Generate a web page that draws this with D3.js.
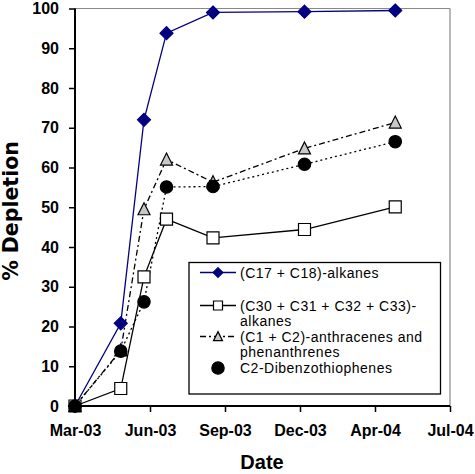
<!DOCTYPE html>
<html>
<head>
<meta charset="utf-8">
<script src="https://cdn.jsdelivr.net/npm/d3@7"></script>
<style>
  html, body { margin: 0; padding: 0; background: #fff; }
  svg { display: block; }
</style>
</head>
<body>
<svg id="chart" width="475" height="474"></svg>
<script>
// ---- data ----
const dates = ["2003-03-01", "2003-05-01", "2003-06-01", "2003-07-01", "2003-09-01", "2004-01-01", "2004-05-01"];
const alkanesC17C18 = [0, 20.8, 72, 93.8, 99, 99.2, 99.5];
const alkanesC30C33 = [0, 4.4, 32.5, 47, 42.3, 44.4, 50.1];
const anthracenes = [0, 14, 49.5, 62, 56.3, 64.8, 71.3];
const dibenzothiophenes = [0, 13.8, 26.2, 55.1, 55.2, 60.8, 66.5];
const seriesNames = ["(C17 + C18)-alkanes", "(C30 + C31 + C32 + C33)-|alkanes", "(C1 + C2)-anthracenes and|phenanthrenes", "C2-Dibenzothiophenes"];
const xTickDates = ["2003-03-01", "2003-06-09", "2003-09-17", "2003-12-26", "2004-04-04", "2004-07-13"];
const xTickLabels = ["Mar-03", "Jun-03", "Sep-03", "Dec-03", "Apr-04", "Jul-04"];
const yTicks = [0, 10, 20, 30, 40, 50, 60, 70, 80, 90, 100];
const xDomain = ["2003-03-01", "2004-07-13"];

const parse = d3.utcParse("%Y-%m-%d");
const svg = d3.select("#chart");
const L = 75, R = 450, T = 8.5, B = 406;

const x = d3.scaleUtc().domain(xDomain.map(parse)).range([L, R]);
const y = d3.scaleLinear().domain([0, 100]).range([B, T]);

// plot frame (grey top/right)
svg.append("line").attr("x1", L).attr("x2", R).attr("y1", T).attr("y2", T).attr("stroke", "#888").attr("stroke-width", 1.2);
svg.append("line").attr("x1", R).attr("x2", R).attr("y1", T).attr("y2", B).attr("stroke", "#888").attr("stroke-width", 1.2);

// axes
const tickMap = new Map(xTickDates.map((d, i) => [+parse(d), xTickLabels[i]]));
const xAxis = d3.axisBottom(x).tickValues(xTickDates.map(parse)).tickSize(6).tickPadding(13)
  .tickFormat(d => tickMap.get(+d));
const yAxis = d3.axisLeft(y).tickValues(yTicks).tickSize(6).tickPadding(10);

const gx = svg.append("g").attr("transform", `translate(0,${B})`).call(xAxis);
const gy = svg.append("g").attr("transform", `translate(${L},0)`).call(yAxis);
[gx, gy].forEach(g => {
  g.select(".domain").attr("stroke", "#000").attr("stroke-width", 2);
  g.selectAll(".tick line").attr("stroke", "#000").attr("stroke-width", 1.5);
  g.selectAll("text").attr("fill", "#000").style("font-family", "'Liberation Sans', Arial, sans-serif")
    .style("font-weight", "bold").style("font-size", "16px");
});
gx.select(".domain").attr("d", `M${L},0H${R}`);
gy.select(".domain").attr("d", `M0,${T}V${B}`);

// axis titles
svg.append("text").attr("x", 262).attr("y", 469).attr("text-anchor", "middle")
  .style("font-family", "'Liberation Sans', Arial, sans-serif").style("font-weight", "bold").style("font-size", "20px")
  .text("Date");
svg.append("text").attr("transform", `translate(18,211) rotate(-90)`).attr("text-anchor", "middle")
  .style("font-family", "'DejaVu Sans', Verdana, sans-serif").style("font-weight", "bold").style("font-size", "20.5px")
  .text("% Depletion");

// series
const allSeries = [
  { vals: alkanesC17C18, color: "#000080", dash: null, marker: "diamond", fill: "#000080", mstroke: "#000080" },
  { vals: alkanesC30C33, color: "#000", dash: null, marker: "square", fill: "#fff", mstroke: "#000" },
  { vals: anthracenes, color: "#000", dash: "6,3,2,3", marker: "triangle", fill: "#c8c8c8", mstroke: "#000" },
  { vals: dibenzothiophenes, color: "#000", dash: "2,3", marker: "circle", fill: "#000", mstroke: "#000" }
];

function markerPath(type) {
  switch (type) {
    case "diamond": return "M0,-6.5L6.5,0L0,6.5L-6.5,0Z";
    case "square": return "M-6,-6H6V6H-6Z";
    case "triangle": return "M0,-6.5L6,5.5H-6Z";
    case "circle": return d3.symbol(d3.symbolCircle, 120)();
  }
}

const line = d3.line().x(d => x(d.date)).y(d => y(d.v));
allSeries.forEach(s => {
  const pts = dates.map((d, i) => ({ date: parse(d), v: s.vals[i] }));
  s.pts = pts;
  svg.append("path").datum(pts).attr("d", line).attr("fill", "none")
    .attr("stroke", s.color).attr("stroke-width", 1.3)
    .attr("stroke-dasharray", s.dash);
});
allSeries.forEach(s => {
  svg.append("g").selectAll("path").data(s.pts).join("path")
    .attr("transform", d => `translate(${x(d.date)},${y(d.v)})`)
    .attr("d", markerPath(s.marker)).attr("fill", s.fill).attr("stroke", s.mstroke).attr("stroke-width", 1.2);
});

// legend
const lg = svg.append("g");
lg.append("rect").attr("x", 189).attr("y", 262.5).attr("width", 251.5).attr("height", 131.5)
  .attr("fill", "#fff").attr("stroke", "#000").attr("stroke-width", 1.3);
const rowY = [272.5, 305.5, 336.5, 368];
allSeries.forEach((s, i) => {
  const ry = rowY[i];
  if (i < 3) {
    lg.append("line").attr("x1", 200).attr("x2", 236).attr("y1", ry).attr("y2", ry)
      .attr("stroke", s.color).attr("stroke-width", 1.3).attr("stroke-dasharray", s.dash);
  }
  const sc = s.marker === "circle" ? 1 : 0.75;
  lg.append("path").attr("transform", `translate(218,${ry}) scale(${sc})`).attr("d", markerPath(s.marker))
    .attr("fill", s.fill).attr("stroke", s.mstroke).attr("stroke-width", 1.2 / sc);
  const lines = seriesNames[i].split("|");
  const t = lg.append("text").attr("x", 240).attr("y", ry + 5)
    .style("font-family", "'Liberation Sans', Arial, sans-serif").style("font-size", "14px")
    .style("letter-spacing", "0.5px").attr("fill", "#000");
  lines.forEach((ln, j) => t.append("tspan").attr("x", 240).attr("dy", j === 0 ? 0 : 15.5).text(ln));
});
</script>
</body>
</html>
